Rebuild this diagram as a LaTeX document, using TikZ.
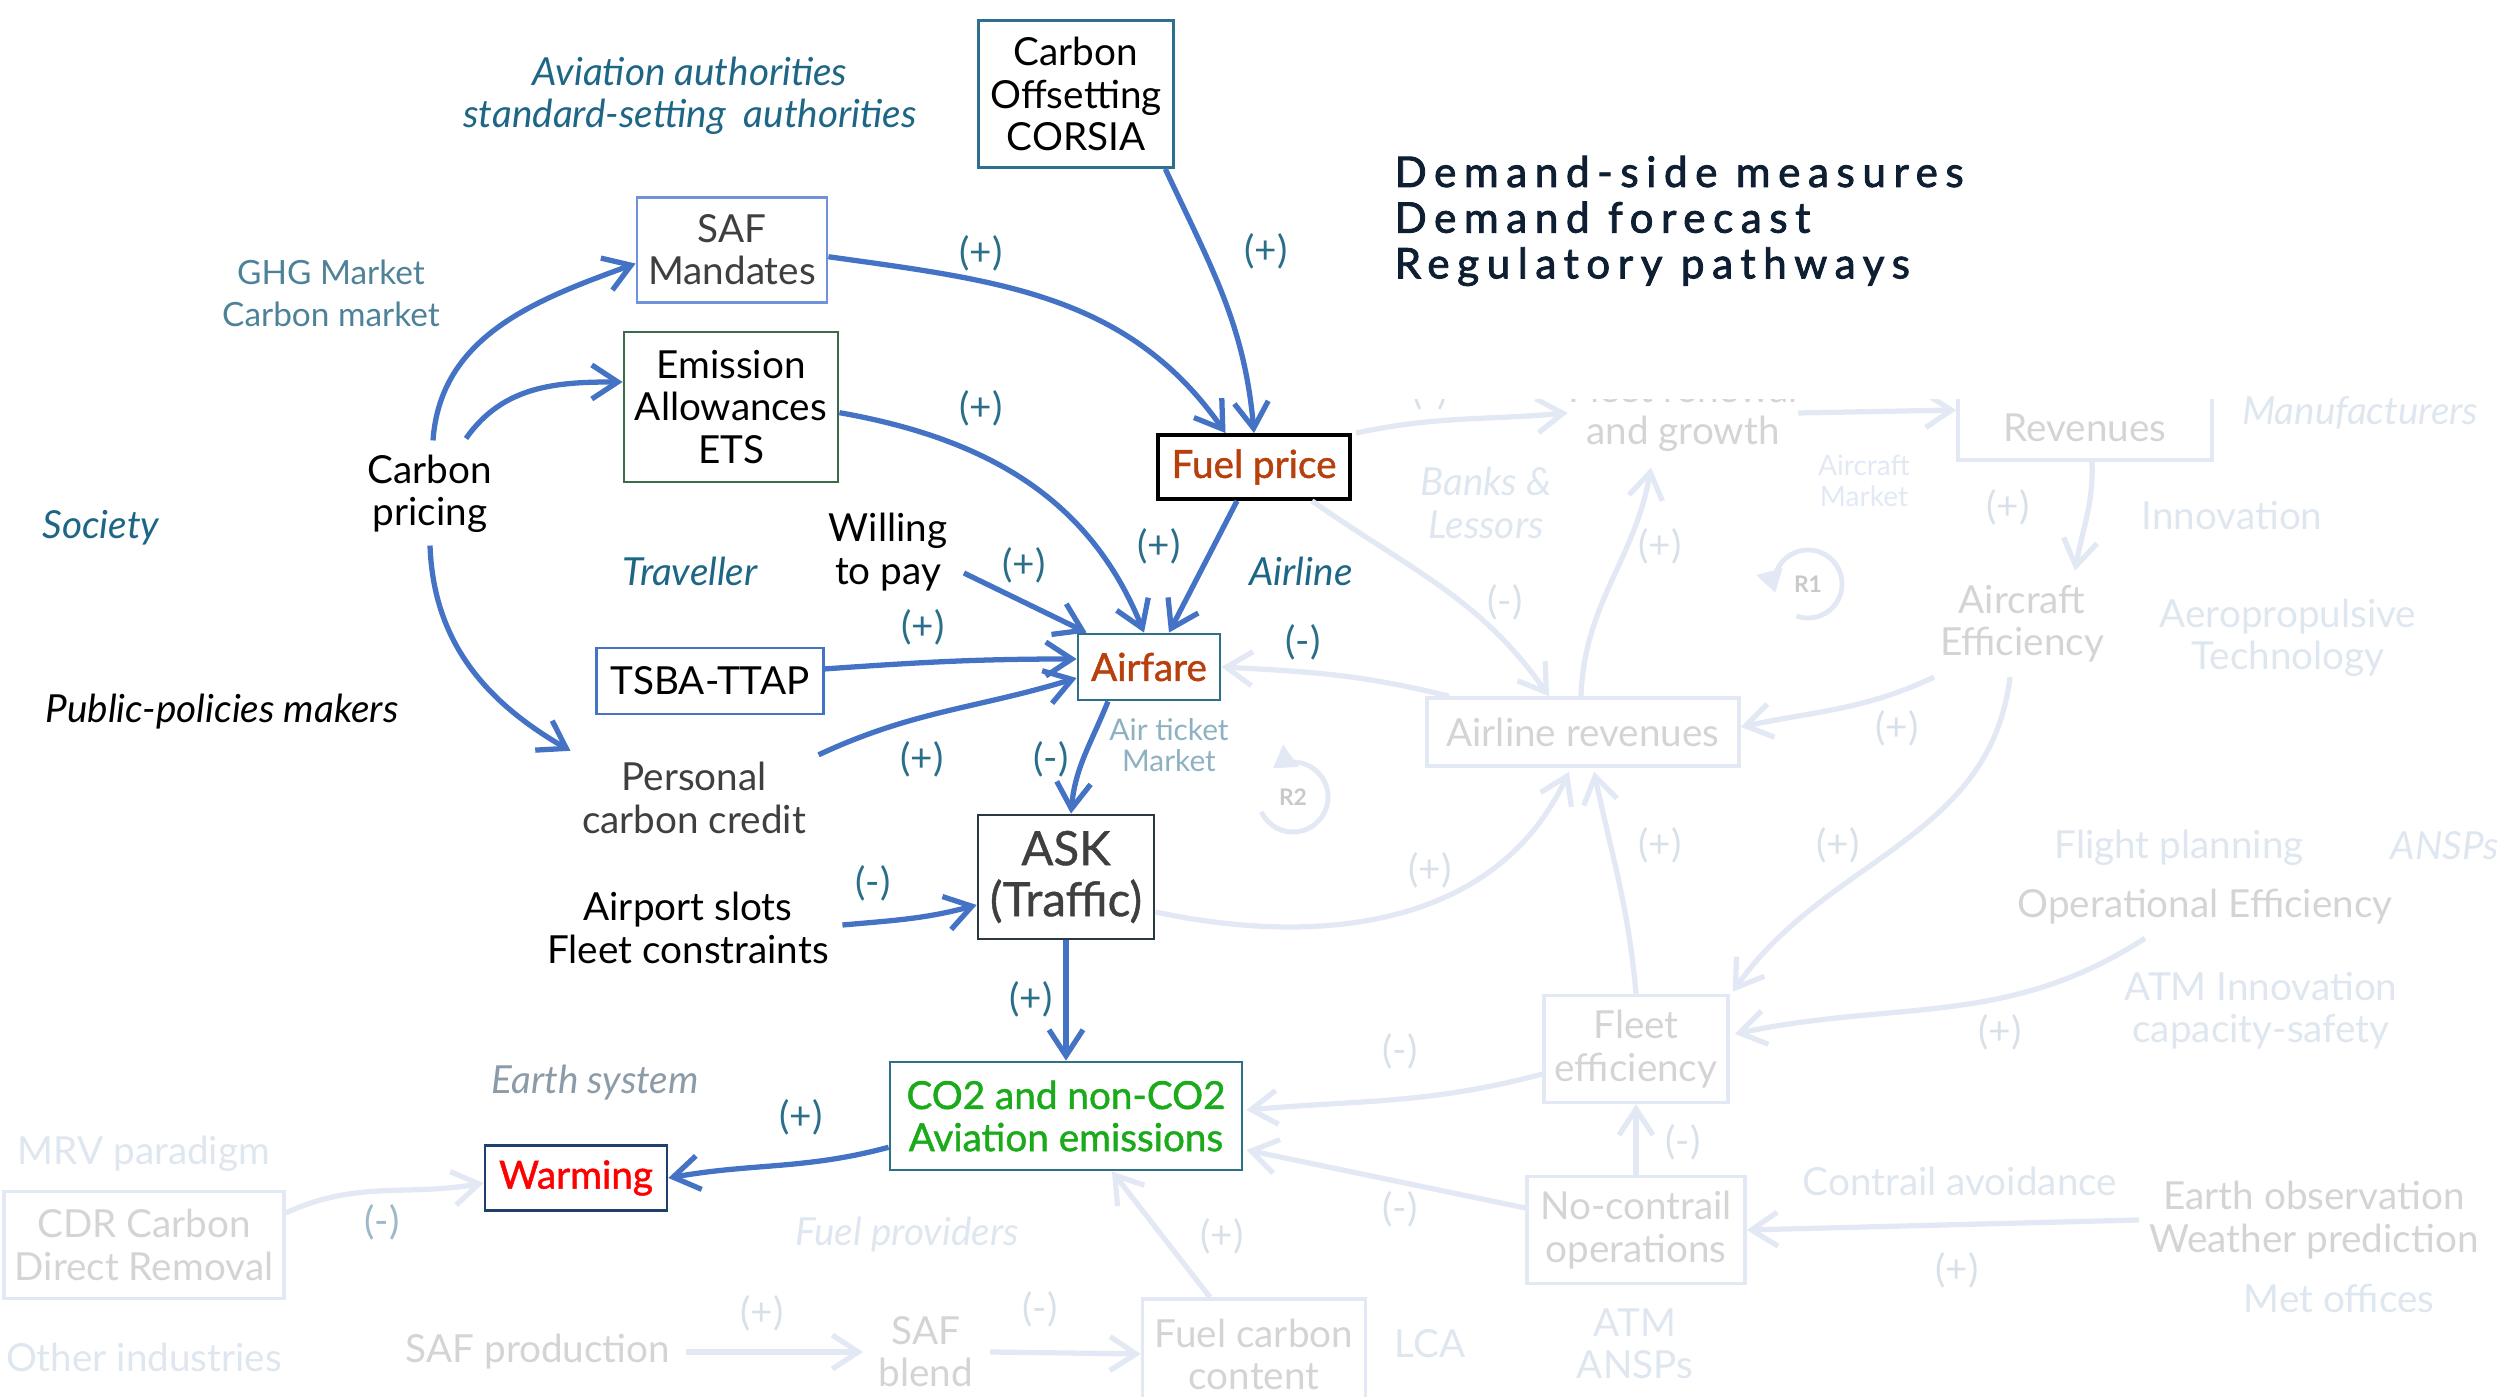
\documentclass[tikz,border=0pt]{standalone}
\usepackage{fontspec}
\setmainfont{Lato}
\usetikzlibrary{arrows.meta}

\definecolor{linkblue}{HTML}{4472C4}
\definecolor{faint}{HTML}{E2E8F4}
\definecolor{signteal}{HTML}{2A6E8A}
\definecolor{actorteal}{HTML}{1D6685}
\definecolor{marketteal}{HTML}{4E8299}
\definecolor{ticketteal}{HTML}{8DB1C2}
\definecolor{priceorange}{HTML}{B8400C}
\definecolor{emisgreen}{HTML}{1AAA1A}
\definecolor{warmred}{HTML}{FF0000}
\definecolor{darktext}{HTML}{3F3F3F}
\definecolor{headnavy}{HTML}{0E1F33}
\definecolor{earthgray}{HTML}{8C9BA8}
\definecolor{fadedtext}{HTML}{D4D4D4}
\definecolor{fadedlabel}{HTML}{DEE6EF}
\definecolor{fadedsign}{HTML}{D8E1EA}
\definecolor{cdrsign}{HTML}{9DB9C7}
\definecolor{corsiaedge}{HTML}{2E6E8E}
\definecolor{safedge}{HTML}{7091DB}
\definecolor{etsedge}{HTML}{3B6B48}
\definecolor{fareedge}{HTML}{2E7088}
\definecolor{askedge}{HTML}{2A3940}
\definecolor{warmedge}{HTML}{1F3F6E}
\definecolor{looptext}{HTML}{C9C9C9}

\tikzset{
  plain/.style={font=\fontsize{11}{12}\selectfont, align=center, inner sep=0pt},
  medium/.style={font=\fontsize{11}{12}\selectfont\addfontfeatures{FakeBold=1.2}},
  stdbox/.style={plain, draw, line width=0.8pt, fill=white},
  fadebox/.style={plain, draw=faint, line width=1pt, text=fadedtext},
  fadetxt/.style={plain, text=fadedtext},
  ghosttxt/.style={plain, text=fadedlabel},
  actorlbl/.style={plain, text=actorteal, font=\fontsize{11}{12}\selectfont\itshape},
  signlbl/.style={plain, text=signteal},
  fadesign/.style={plain, text=fadedsign},
  barbhead/.style={-{Straight Barb[length=2.6mm,width=3.4mm]}},
  darklink/.style={draw=linkblue, line width=1.5pt, barbhead},
  fadelink/.style={draw=faint, line width=1.5pt, barbhead},
  loopmark/.style={draw=faint, line width=1.4pt, -{Triangle[length=2.2mm,width=2.6mm]}},
}

\begin{document}
\begin{tikzpicture}[x=0.1mm,y=0.1mm]
\useasboundingbox (0,-1397) rectangle (2509,0);

% ---------- faded part of the loop diagram ----------
\node[fadetxt] (fleetren) at (1683,-413) {Fleet renewal\\and growth};
\node[fadebox, minimum width=25.4mm, minimum height=6.4mm] (revenues) at (2085,-428) {Revenues};
\node[fadesign] at (1430,-392) {(-)};
\node[fadetxt] (airceff) at (2022,-624) {Aircraft\\Efficiency};
\node[fadebox, minimum width=31.2mm, minimum height=6.8mm] (arev) at (1583,-732) {Airline revenues};
\node[fadetxt] (opeff) at (2205,-907) {Operational Efficiency};
\node[fadebox, minimum width=18.4mm, minimum height=10.7mm] (fleeteff) at (1636,-1049) {Fleet\\efficiency};
\node[fadebox, minimum width=21.8mm, minimum height=10.7mm] (nocontrail) at (1636,-1230) {No-contrail\\operations};
\node[fadetxt] (earthobs) at (2314,-1220) {Earth observation\\Weather prediction};
\node[fadebox, minimum width=22.3mm, minimum height=11mm] (fcc) at (1254,-1354) {Fuel carbon\\content};
\node[fadetxt] (safprod) at (538,-1352) {SAF production};
\node[fadetxt] (safblend) at (926,-1352) {SAF\\blend};
\node[fadebox, minimum width=28mm, minimum height=10.7mm] (cdr) at (144,-1245) {CDR Carbon\\Direct Removal};

\node[ghosttxt] (innov) at (2232,-515) {Innovation};
\node[ghosttxt] (aero) at (2288,-638) {Aeropropulsive\\Technology};
\node[ghosttxt, font=\fontsize{11}{12}\selectfont\itshape] (manuf) at (2360,-413) {Manufacturers};
\node[ghosttxt, font=\fontsize{11}{12}\selectfont\itshape] (banks) at (1486,-503) {Banks \&\\Lessors};
\node[ghosttxt, font=\fontsize{8}{9}\selectfont, text=faint] (aircmkt) at (1864,-481) {Aircraft\\Market};
\node[ghosttxt] (flightpl) at (2179,-848) {Flight planning};
\node[ghosttxt, font=\fontsize{11}{12}\selectfont\itshape] (ansps) at (2445,-846) {ANSPs};
\node[ghosttxt] (atminn) at (2261,-1011) {ATM Innovation\\capacity-safety};
\node[ghosttxt] (contrail) at (1960,-1181) {Contrail avoidance};
\node[ghosttxt] (metoff) at (2339,-1298) {Met offices};
\node[ghosttxt] (atmansps) at (1635,-1344) {ATM\\ANSPs};
\node[ghosttxt] (lca) at (1430,-1344) {LCA};
\node[ghosttxt, font=\fontsize{11}{12}\selectfont\itshape] (fuelprov) at (907,-1235) {Fuel providers};
\node[ghosttxt] (otherind) at (144,-1357) {Other industries};
\node[ghosttxt] (mrv) at (144,-1154) {MRV paradigm};

% faded signs
\node[fadesign] at (1505,-602) {(-)};
\node[fadesign] at (1660,-546) {(+)};
\node[fadesign] at (2008,-507) {(+)};
\node[fadesign] at (1897,-728) {(+)};
\node[fadesign] at (1838,-845) {(+)};
\node[fadesign] at (1660,-845) {(+)};
\node[fadesign] at (1430,-870) {(+)};
\node[fadesign] at (2000,-1032) {(+)};
\node[fadesign] at (1400,-1051) {(-)};
\node[fadesign] at (1683,-1142) {(-)};
\node[fadesign] at (1400,-1209) {(-)};
\node[fadesign] at (1957,-1270) {(+)};
\node[fadesign] at (1222,-1236) {(+)};
\node[fadesign] at (762,-1313) {(+)};
\node[fadesign] at (1040,-1309) {(-)};
\node[plain, text=cdrsign] at (382,-1222) {(-)};

% reinforcing loop markers
\node[plain, font=\fontsize{6.5}{7}\selectfont\bfseries, text=looptext] (r1) at (1808,-584) {R1};
\draw[loopmark] (r1.center) ++(250:3.4mm) arc[start angle=250, end angle=555, radius=3.4mm];
\node[plain, font=\fontsize{6.5}{7}\selectfont\bfseries, text=looptext] (r2) at (1293,-797) {R2};
\draw[loopmark] (r2.center) ++(205:3.5mm) arc[start angle=205, end angle=485, radius=3.5mm];

% ---------- main nodes ----------
\node[stdbox, draw=corsiaedge, minimum width=19.5mm, minimum height=14.7mm] (corsia) at (1076,-94) {Carbon\\Offsetting\\CORSIA};
\node[stdbox, draw=safedge, text=darktext, minimum width=19mm, minimum height=10.5mm] (saf) at (732,-250) {SAF\\Mandates};
\node[stdbox, draw=etsedge, minimum width=21.4mm, minimum height=15mm] (ets) at (731,-407) {Emission\\Allowances\\ETS};
\node[stdbox, medium, draw=black, line width=1.1pt, text=priceorange, minimum width=19.2mm, minimum height=6.4mm] (fuel) at (1254,-467) {Fuel price};
\node[stdbox, medium, draw=fareedge, text=priceorange, minimum width=14.2mm, minimum height=6.6mm] (airfare) at (1149,-667) {Airfare};
\node[stdbox, draw=linkblue, minimum width=22.7mm, minimum height=6.6mm] (tsba) at (710,-681) {TSBA-TTAP};
\node[stdbox, draw=askedge, text=darktext, font=\fontsize{13.5}{14.5}\selectfont\addfontfeatures{FakeBold=0.8}, minimum width=17.6mm, minimum height=12.4mm] (ask) at (1066,-877) {ASK\\(Traffic)};
\node[stdbox, medium, draw=fareedge, text=emisgreen, minimum width=35.2mm, minimum height=10.8mm] (co2) at (1066,-1116) {CO2 and non-CO2\\Aviation emissions};
\node[stdbox, medium, draw=warmedge, text=warmred, minimum width=18.2mm, minimum height=6.5mm] (warming) at (576,-1178) {Warming};

\node[plain] (cp) at (430,-494) {Carbon\\pricing};
\node[plain] (wtp) at (888,-552) {Willing\\to pay};
\node[plain, text=darktext] (pcc) at (694,-798) {Personal\\carbon credit};
\node[plain] (slots) at (688,-928) {Airport slots\\Fleet constraints};

\node[actorlbl] (auth) at (690,-96) {Aviation authorities\\standard-setting\ \ authorities};
\node[plain, text=marketteal, font=\fontsize{9.5}{12}\selectfont] (ghg) at (331,-293) {GHG Market\\Carbon market};
\node[actorlbl] (society) at (101,-528) {Society};
\node[actorlbl] (traveller) at (690,-571) {Traveller};
\node[actorlbl] (airline) at (1301,-571) {Airline};
\node[plain, font=\fontsize{11}{12}\selectfont\itshape] (public) at (222,-712) {Public-policies makers};
\node[plain, text=earthgray, font=\fontsize{11}{12}\selectfont\itshape] (earthsys) at (595,-1083) {Earth system};
\node[plain, text=ticketteal, font=\fontsize{8.5}{9}\selectfont] (airticket) at (1169,-745) {Air ticket\\Market};

% ---------- faded links ----------
\draw[fadelink] ([xshift=0.4mm]fuel.north east) to[out=12,in=185] (fleetren.west);
\draw[fadelink] ([xshift=5.8mm]fuel.south) to[out=-35,in=125] ([xshift=-3.4mm]arev.north);
\draw[fadelink] ([xshift=-0.2mm]arev.north) to[out=88,in=-100] ([shift={(-3.2mm,-1.5mm)}]fleetren.south);
\draw[fadelink] (fleetren.east) -- ([yshift=1.8mm]revenues.west);
\draw[fadelink] ([xshift=0.7mm]revenues.south) to[out=-88,in=80] ([shift={(5.3mm,1.4mm)}]airceff.north);
\draw[fadelink] ([shift={(-8.8mm,-1.4mm)}]airceff.south) to[out=205,in=12] ([yshift=0.5mm]arev.east);
\draw[fadelink] ([shift={(-1.2mm,-1.4mm)}]airceff.south) to[out=-97,in=55] ([shift={(0.3mm,0.2mm)}]fleeteff.north east);
\draw[fadelink] ([xshift=-13.4mm]arev.north) to[out=166,in=-3] (airfare.east);
\draw[fadelink] ([yshift=-3.5mm]ask.east) to[out=-12,in=-115] ([shift={(-1.4mm,-0.4mm)}]arev.south);
\draw[fadelink] (fleeteff.north) to[out=95,in=-78] ([shift={(1.1mm,-0.4mm)}]arev.south);
\draw[fadelink] ([shift={(-6mm,-1.3mm)}]opeff.south) to[out=213,in=12] ([shift={(0.5mm,1.5mm)}]fleeteff.east);
\draw[fadelink] ([yshift=-2.5mm]fleeteff.west) to[out=195,in=5] ([shift={(0.3mm,0.6mm)}]co2.east);
\draw[fadelink] (nocontrail.north) -- (fleeteff.south);
\draw[fadelink] ([yshift=2.2mm]nocontrail.west) -- ([shift={(0.3mm,-3.4mm)}]co2.east);
\draw[fadelink] ([xshift=-1mm]earthobs.west) -- (nocontrail.east);
\draw[fadelink] ([xshift=-4.4mm]fcc.north) -- ([xshift=4.6mm]co2.south);
\draw[fadelink] ([xshift=1.5mm]safprod.east) -- ([xshift=-1.5mm]safblend.west);
\draw[fadelink] ([xshift=1.6mm]safblend.east) -- (fcc.west);
\draw[fadelink] ([yshift=3.2mm]cdr.east) to[out=25,in=190] ([yshift=-0.5mm]warming.west);

% ---------- main links ----------
\draw[darklink] ([shift={(0.3mm,1.4mm)}]cp.north) to[out=86,in=200] (saf.188);
\draw[darklink] ([shift={(3.6mm,1.6mm)}]cp.north) to[out=55,in=180] (ets.167);
\draw[darklink] ([yshift=-1.2mm]cp.south) to[out=-88,in=150] ([shift={(-1.1mm,1.1mm)}]pcc.north west);
\draw[darklink] (saf.356) to[out=-8,in=125] (fuel.130);
\draw[darklink] (corsia.-40) to[out=-65,in=95] (fuel.north);
\draw[darklink] (ets.-3) to[out=-10,in=112] ([xshift=-0.5mm]airfare.north);
\draw[darklink] ([xshift=-1.7mm]fuel.south) -- ([xshift=2mm]airfare.north);
\draw[darklink] ([shift={(1.6mm,-2.1mm)}]wtp.east) -- ([xshift=1mm]airfare.north west);
\draw[darklink] (tsba.6) to[out=4,in=180] ([yshift=0.8mm]airfare.west);
\draw[darklink] ([shift={(1.2mm,0.7mm)}]pcc.north east) to[out=25,in=197] ([yshift=-1.1mm]airfare.west);
\draw[darklink] ([xshift=-4.1mm]airfare.south) to[out=-112,in=85] ([xshift=0.5mm]ask.north);
\draw[darklink] ([shift={(1.3mm,0.3mm)}]slots.east) to[out=5,in=195] ([yshift=-2.8mm]ask.west);
\draw[darklink] (ask.south) -- (co2.north);
\draw[darklink] (co2.190) to[out=195,in=10] (warming.east);

% signs on the main links
\node[signlbl] at (981,-253) {(+)};
\node[signlbl] at (1266,-251) {(+)};
\node[signlbl] at (981,-408) {(+)};
\node[signlbl] at (1159,-546) {(+)};
\node[signlbl] at (1024,-565) {(+)};
\node[signlbl] at (923,-627) {(+)};
\node[signlbl] at (922,-759) {(+)};
\node[signlbl] at (1051,-759) {(-)};
\node[signlbl] at (873,-883) {(-)};
\node[signlbl] at (1031,-999) {(+)};
\node[signlbl] at (801,-1117) {(+)};
\node[signlbl] at (1303,-642) {(-)};

% ---------- heading panel ----------
\fill[white] (1385,0) rectangle (2240,-399);
\node[anchor=west, align=left, inner sep=0pt, text=headnavy,
      font=\fontsize{12}{13}\selectfont\addfontfeatures{LetterSpace=18,FakeBold=2}] (heading) at (1394,-221)
  {Demand-side measures\\Demand forecast\\Regulatory pathways};
\end{tikzpicture}
\end{document}
